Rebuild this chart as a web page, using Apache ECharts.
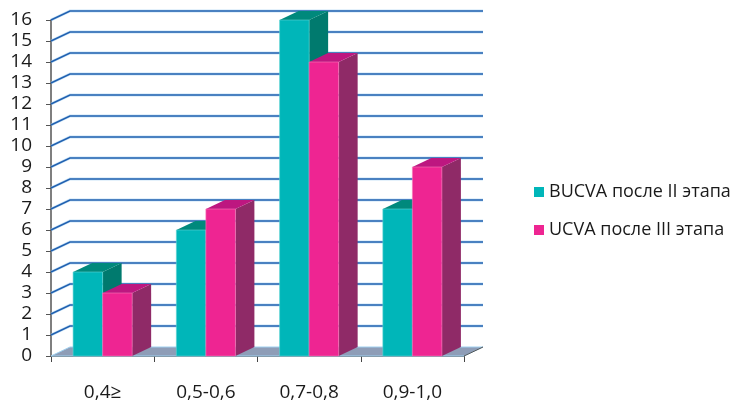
<!DOCTYPE html>
<html>
<head>
<meta charset="utf-8">
<script src="https://cdn.jsdelivr.net/npm/echarts@6/dist/echarts.min.js"></script>
<style>
  html, body { margin: 0; padding: 0; background: #ffffff; }
  #chart { width: 736px; height: 403px; }
</style>
</head>
<body>
<div id="chart"></div>
<script>
// Chart data
const categories = ['0,4≥', '0,5-0,6', '0,7-0,8', '0,9-1,0'];
const seriesNames = ['BUCVA после II этапа', 'UCVA после III этапа'];
const bucvaValues = [4, 6, 16, 7];
const ucvaValues = [3, 7, 14, 9];
const yTicks = [0, 1, 2, 3, 4, 5, 6, 7, 8, 9, 10, 11, 12, 13, 14, 15, 16];

// 3D look: depth offset of the back wall and bar tops (pixels)
const DEPTH_X = 19;
const DEPTH_Y = 9;
const FONT = '"Open Sans", "DejaVu Sans", sans-serif';

const palettes = [
  { front: '#00b6b9', side: '#007a6e', top: '#00897c', edge: '#5fd3d3' },
  { front: '#ee2592', side: '#8f2a67', top: '#bd1780', edge: '#f77bbb' }
];

const chart = echarts.init(document.getElementById('chart'));

// Back wall gridlines with their diagonal links to the front axis, plus the floor
function renderWall(params, api) {
  const cs = params.coordSys;
  const v = api.value(0);
  const y = api.coord([0, v])[1];
  const children = [];
  if (v === 0) {
    children.push({
      type: 'polygon',
      shape: { points: [[cs.x, y], [cs.x + DEPTH_X, y - DEPTH_Y], [cs.x + cs.width + DEPTH_X, y - DEPTH_Y], [cs.x + cs.width, y]] },
      style: { fill: '#8e9db7', stroke: '#9fd0f0', lineWidth: 1 }
    });
    children.push({
      type: 'line',
      shape: { x1: cs.x + cs.width, y1: y, x2: cs.x + cs.width + DEPTH_X, y2: y - DEPTH_Y },
      style: { stroke: '#555', lineWidth: 1 }
    });
  } else {
    children.push({
      type: 'polyline',
      shape: { points: [[cs.x, y], [cs.x + DEPTH_X, y - DEPTH_Y], [cs.x + cs.width + DEPTH_X, y - DEPTH_Y]] },
      style: { stroke: '#a9d4f2', lineWidth: 3, fill: null, opacity: 0.6 }
    });
    children.push({
      type: 'polyline',
      shape: { points: [[cs.x, y], [cs.x + DEPTH_X, y - DEPTH_Y], [cs.x + cs.width + DEPTH_X, y - DEPTH_Y]] },
      style: { stroke: '#2160b0', lineWidth: 1.6, fill: null }
    });
  }
  return { type: 'group', children: children };
}

function makeBarRenderer(idx) {
  const pal = palettes[idx];
  return function (params, api) {
    const cat = api.value(0);
    const val = api.value(1);
    const top = api.coord([cat, val]);
    const base = api.coord([cat, 0]);
    const band = api.size([1, 0])[0];
    const w = band * 0.286;
    const x0 = idx === 0 ? top[0] - w : top[0];
    const x1 = x0 + w;
    const yT = top[1];
    const yB = base[1];
    return {
      type: 'group',
      children: [
        {
          type: 'polygon',
          shape: { points: [[x1, yB], [x1, yT], [x1 + DEPTH_X, yT - DEPTH_Y], [x1 + DEPTH_X, yB - DEPTH_Y]] },
          style: { fill: pal.side }
        },
        {
          type: 'polygon',
          shape: { points: [[x0, yT], [x0 + DEPTH_X, yT - DEPTH_Y], [x1 + DEPTH_X, yT - DEPTH_Y], [x1, yT]] },
          style: { fill: pal.top }
        },
        {
          type: 'rect',
          shape: { x: x0, y: yT, width: w, height: yB - yT },
          style: { fill: pal.front, stroke: pal.edge, lineWidth: 0.6 }
        }
      ]
    };
  };
}

chart.setOption({
  animation: false,
  backgroundColor: '#ffffff',
  grid: { left: 51, top: 20, width: 413, height: 336 },
  legend: {
    orient: 'vertical',
    left: 529,
    top: 177,
    itemWidth: 10,
    itemHeight: 10,
    itemGap: 18,
    icon: 'rect',
    data: seriesNames,
    textStyle: { fontFamily: FONT, fontSize: 18, lineHeight: 20, color: '#1a1a1a' }
  },
  xAxis: {
    type: 'category',
    data: categories,
    boundaryGap: true,
    axisLine: { show: true, lineStyle: { color: '#6a6a6a', width: 1 } },
    axisTick: { show: true, length: 6, lineStyle: { color: '#444' } },
    axisLabel: { margin: 27, fontFamily: FONT, fontSize: 19, color: '#1a1a1a' },
    splitLine: { show: false }
  },
  yAxis: {
    type: 'value',
    min: 0,
    max: 16,
    interval: 1,
    axisLine: { show: true, lineStyle: { color: '#555', width: 1.5 } },
    axisTick: { show: true, length: 5, lineStyle: { color: '#555' } },
    axisLabel: { margin: 19, fontFamily: FONT, fontSize: 19, color: '#1a1a1a' },
    splitLine: { show: false }
  },
  series: [
    {
      type: 'custom',
      name: 'wall',
      z: 1,
      silent: true,
      renderItem: renderWall,
      data: yTicks.map(v => [v]),
      encode: { y: 0 }
    },
    {
      type: 'custom',
      name: seriesNames[0],
      z: 3,
      color: palettes[0].front,
      renderItem: makeBarRenderer(0),
      data: bucvaValues.map((v, i) => [i, v]),
      encode: { x: 0, y: 1 }
    },
    {
      type: 'custom',
      name: seriesNames[1],
      z: 4,
      color: palettes[1].front,
      renderItem: makeBarRenderer(1),
      data: ucvaValues.map((v, i) => [i, v]),
      encode: { x: 0, y: 1 }
    }
  ]
});
</script>
</body>
</html>
